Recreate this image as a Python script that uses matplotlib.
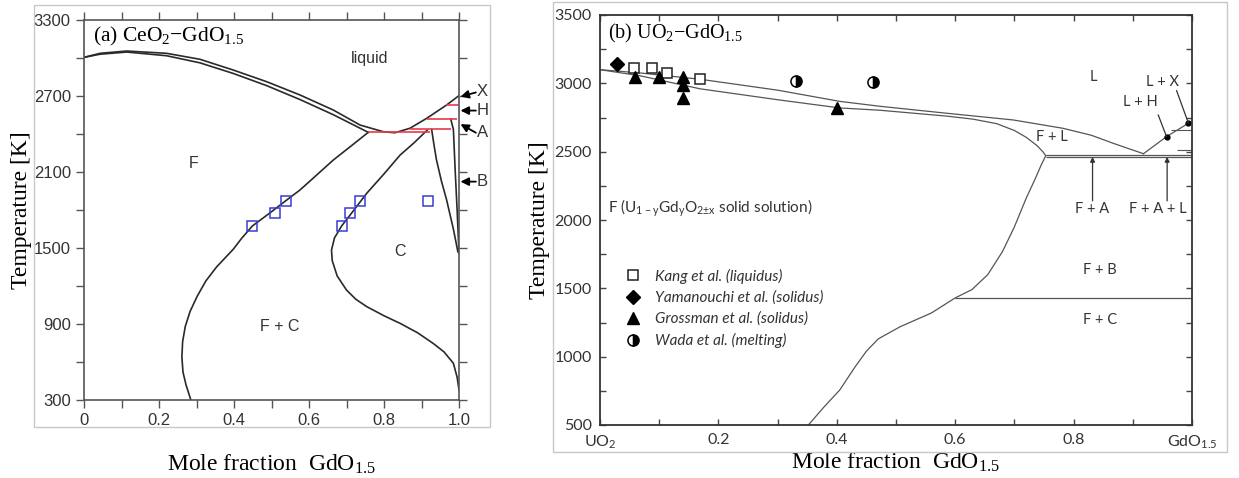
import matplotlib.pyplot as plt
from matplotlib.patches import Rectangle

plt.rcParams['mathtext.default'] = 'regular'

# ---------------- (a) CeO2-GdO1.5 ----------------
a_liq_x = [0, 0.043, 0.114, 0.22, 0.309, 0.398, 0.487, 0.576, 0.665, 0.736, 0.798, 0.829, 0.869, 0.914, 0.967, 1.0]
a_liq_T = [3005, 3037, 3055, 3037, 2990, 2905, 2813, 2708, 2589, 2471, 2418, 2410, 2445, 2524, 2629, 2703]
a_sol_x = [0, 0.043, 0.114, 0.22, 0.309, 0.398, 0.487, 0.576, 0.665, 0.72, 0.758]
a_sol_T = [3005, 3030, 3047, 3018, 2962, 2878, 2782, 2672, 2552, 2470, 2413]
a_f_x = [0.758, 0.71, 0.665, 0.62, 0.576, 0.538, 0.495, 0.449, 0.42, 0.398, 0.354, 0.325, 0.302,
         0.283, 0.27, 0.263, 0.261, 0.264, 0.272, 0.285]
a_f_T = [2413, 2300, 2195, 2075, 1958, 1873, 1775, 1674, 1575, 1490, 1352, 1240, 1120,
         1000, 880, 760, 640, 520, 420, 300]
a_c_x = [0.915, 0.88, 0.843, 0.8, 0.754, 0.72, 0.687, 0.668, 0.66, 0.662, 0.675, 0.7, 0.725,
         0.754, 0.8, 0.843, 0.89, 0.931, 0.96, 0.985, 0.995, 1.0]
a_c_T = [2430, 2330, 2234, 2085, 1932, 1800, 1674, 1580, 1484, 1400, 1280, 1168, 1095,
         1037, 965, 905, 830, 747, 680, 590, 480, 379]
a_cb_x = [0.927, 0.933, 0.94, 0.953, 0.967, 0.985, 0.997]
a_cb_T = [2437, 2320, 2195, 2030, 1879, 1650, 1470]
a_b_x = [0.978, 0.985, 0.99, 0.995, 1.0]
a_b_T = [2518, 2437, 2100, 1800, 1460]
# red tie lines
a_red_T = [2413, 2437, 2518, 2629]
a_red_x0 = [0.758, 0.87, 0.914, 0.965]
a_red_x1 = [0.923, 0.978, 0.994, 1.0]
# experimental points
a_exp_x = [0.449, 0.508, 0.538, 0.689, 0.708, 0.736, 0.918]
a_exp_T = [1674, 1779, 1873, 1674, 1779, 1873, 1873]
# phase arrows on right side
a_arr_lab = ['X', 'H', 'A', 'B']
a_arr_T = [2695, 2585, 2478, 2024]
a_arr_tailT = [2728, 2585, 2410, 2024]

# ---------------- (b) UO2-GdO1.5 ----------------
b_liq_x = [0, 0.07, 0.169, 0.3, 0.405, 0.473, 0.586, 0.698, 0.782, 0.83, 0.867, 0.918]
b_liq_T = [3100, 3075, 3030, 2950, 2868, 2832, 2781, 2732, 2671, 2620, 2561, 2485]
b_sol_x = [0, 0.068, 0.169, 0.3, 0.405, 0.473, 0.586, 0.63, 0.67, 0.70, 0.72, 0.738, 0.748, 0.753]
b_sol_T = [3100, 3055, 2960, 2880, 2820, 2803, 2760, 2738, 2705, 2655, 2605, 2545, 2500, 2470]
b_f_x = [0.753, 0.745, 0.735, 0.72, 0.70, 0.68, 0.655, 0.628, 0.6, 0.56, 0.507, 0.47, 0.45, 0.43, 0.405, 0.378, 0.352]
b_f_T = [2470, 2400, 2300, 2160, 1950, 1770, 1600, 1490, 1430, 1320, 1219, 1130, 1040, 920, 756, 630, 500]
b_hx_x = [0.918, 0.957, 0.994, 1.0]
b_hx_T = [2485, 2610, 2708, 2720]
b_eut_T = [2478, 2458]
b_fb_T = 1430

kang_x = [0.057, 0.087, 0.114, 0.169]
kang_T = [3115, 3110, 3078, 3034]
yama_x = [0.029]
yama_T = [3141]
gross_x = [0.059, 0.1, 0.141, 0.141, 0.141, 0.4]
gross_T = [3044, 3044, 3049, 2988, 2890, 2817]
wada_x = [0.331, 0.461]
wada_T = [3020, 3012]

fig = plt.figure(figsize=(12.39, 4.78), dpi=100)

# light frames around each panel
fig.patches.append(Rectangle((34 / 1239, 1 - 427 / 478), (490 - 34) / 1239, (427 - 5) / 478,
                             transform=fig.transFigure, fill=False, ec='#c8c8c8', lw=1))
fig.patches.append(Rectangle((553 / 1239, 1 - 452 / 478), (1227 - 553) / 1239, (452 - 2) / 478,
                             transform=fig.transFigure, fill=False, ec='#c8c8c8', lw=1))

# ===== panel (a) =====
axa = fig.add_axes([84 / 1239, 1 - 400 / 478, 375 / 1239, 380 / 478])
lc = '#2a2a2a'
for xs, ts in [(a_liq_x, a_liq_T), (a_sol_x, a_sol_T), (a_f_x, a_f_T),
               (a_c_x, a_c_T), (a_cb_x, a_cb_T), (a_b_x, a_b_T)]:
    axa.plot(xs, ts, color=lc, lw=1.2, solid_joinstyle='round')
axa.hlines(a_red_T, a_red_x0, a_red_x1, colors='#e8394a', lw=1.2)
axa.plot(a_exp_x, a_exp_T, 's', ms=6.5, mfc='none', mec='#3b3bd6', mew=1.1)

axa.set_xlim(0, 1.0)
axa.set_ylim(300, 3300)
axa.set_xticks([0, 0.2, 0.4, 0.6, 0.8, 1.0])
axa.set_xticklabels(['0', '0.2', '0.4', '0.6', '0.8', '1.0'])
axa.set_xticks([0.1, 0.3, 0.5, 0.7, 0.9], minor=True)
axa.set_yticks([300, 900, 1500, 2100, 2700, 3300])
axa.set_yticks([600, 1200, 1800, 2400, 3000], minor=True)
axa.tick_params(which='both', direction='out', length=6, width=1, color='#555555',
                top=True, right=True, labelsize=12, labelcolor='#333333')
for lab in axa.get_xticklabels() + axa.get_yticklabels():
    lab.set_family('Liberation Sans')
for s in axa.spines.values():
    s.set_color('#555555')
    s.set_linewidth(1.2)

axa.text(0.024, 3166, '(a) CeO$_2$\u2212GdO$_{1.5}$', family='Liberation Serif', fontsize=15.5, va='center')
ta = dict(family='Liberation Sans', fontsize=11.5, ha='center', va='center', color='#333333')
axa.text(0.763, 2997, 'liquid', **ta)
axa.text(0.291, 2169, 'F', **ta)
axa.text(0.843, 1471, 'C', **ta)
axa.text(0.523, 878, 'F + C', **ta)
for lab, tT, sT in zip(a_arr_lab, a_arr_T, a_arr_tailT):
    axa.annotate('', xy=(1.004, tT), xytext=(1.045, sT), annotation_clip=False,
                 arrowprops=dict(arrowstyle='-|>', color='k', lw=1.3, mutation_scale=12, shrinkA=0, shrinkB=0))
    axa.text(1.047, sT + (10 if lab == 'X' else 0), lab, family='Liberation Sans', fontsize=12,
             va='center', ha='left', color='#333333', clip_on=False)

axa.set_xlabel('Mole fraction  GdO$_{1.5}$', family='Liberation Serif', fontsize=17, labelpad=18)
axa.set_ylabel('Temperature [K]', family='Liberation Serif', fontsize=17, labelpad=1)

# ===== panel (b) =====
axb = fig.add_axes([600 / 1239, 1 - 425 / 478, 592 / 1239, 410 / 478])
gc = '#555555'
for xs, ts in [(b_liq_x, b_liq_T), (b_sol_x, b_sol_T), (b_f_x, b_f_T), (b_hx_x, b_hx_T)]:
    axb.plot(xs, ts, color=gc, lw=0.9, solid_joinstyle='round')
axb.hlines(b_eut_T, b_sol_x[-1], 1.0, colors=gc, lw=0.9)
axb.hlines([2660, 2510], [0.965, 0.975], 1.0, colors=gc, lw=0.8)
axb.hlines(b_fb_T, 0.6, 1.0, colors=gc, lw=0.9)
axb.plot(b_hx_x[1:3], b_hx_T[1:3], 'o', color='k', ms=3.5)

axb.plot(kang_x, kang_T, 's', ms=7, mfc='white', mec='#222222', mew=1.1, label='Kang et al. (liquidus)')
axb.plot(yama_x, yama_T, 'D', ms=7, color='k', label='Yamanouchi et al. (solidus)')
axb.plot(gross_x, gross_T, '^', ms=8, color='k', label='Grossman et al. (solidus)')
axb.plot(wada_x, wada_T, 'o', ms=8, fillstyle='right', mfc='k', mfcalt='white', mec='k', mew=1.1,
         label='Wada et al. (melting)')

axb.set_xlim(0, 1.0)
axb.set_ylim(500, 3500)
axb.set_xticks([0, 0.2, 0.4, 0.6, 0.8, 1.0])
axb.set_xticklabels(['UO$_2$', '0.2', '0.4', '0.6', '0.8', 'GdO$_{1.5}$'])
axb.set_xticks([0.1, 0.3, 0.5, 0.7, 0.9], minor=True)
axb.set_yticks([500, 1000, 1500, 2000, 2500, 3000, 3500])
axb.set_yticks([750, 1250, 1750, 2250, 2750, 3250], minor=True)
axb.tick_params(which='both', direction='in', length=4, width=1, color='#444444',
                top=True, right=True, labelsize=11.5, labelcolor='#333333', pad=6)
for lab in axb.get_xticklabels() + axb.get_yticklabels():
    lab.set_family('Lato')
for s in axb.spines.values():
    s.set_color('#333333')
    s.set_linewidth(1.3)

axb.text(0.0135, 3368, '(b) UO$_2$\u2212GdO$_{1.5}$', family='Liberation Serif', fontsize=14.5, va='center')
tk = dict(family='Lato', fontsize=10.5, ha='center', va='center', color='#333333')
axb.text(0.833, 3049, 'L', **tk)
axb.text(0.951, 3012, 'L + X', **tk)
axb.text(0.912, 2866, 'L + H', **tk)
axb.text(0.764, 2609, 'F + L', **tk)
axb.text(0.832, 2080, 'F + A', **tk)
axb.text(0.943, 2080, 'F + A + L', **tk)
axb.text(0.845, 1634, 'F + B', **tk)
axb.text(0.845, 1268, 'F + C', **tk)
axb.text(0.0135, 2088, 'F (U$_{1-y}$Gd$_y$O$_{2±x}$ solid solution)', family='Lato', fontsize=11,
         va='center', color='#333333')
axb.plot([0.943, 0.957], [2768, 2610], color='#333333', lw=0.9)
axb.plot([0.974, 0.994], [2946, 2708], color='#333333', lw=0.9)
axb.annotate('', xy=(0.832, 2462), xytext=(0.832, 2140),
             arrowprops=dict(arrowstyle='-|>', color='#333333', lw=0.9, mutation_scale=7, shrinkA=0, shrinkB=0))
axb.annotate('', xy=(0.958, 2462), xytext=(0.958, 2140),
             arrowprops=dict(arrowstyle='-|>', color='#333333', lw=0.9, mutation_scale=7, shrinkA=0, shrinkB=0))

leg = axb.legend(loc='upper left', bbox_to_anchor=(0.02, 0.415), frameon=False,
                 handlelength=1.0, handletextpad=0.9, labelspacing=0.45,
                 prop={'family': 'Lato', 'style': 'italic', 'size': 11})
for t in leg.get_texts():
    t.set_color('#333333')

axb.set_xlabel('Mole fraction  GdO$_{1.5}$', family='Liberation Serif', fontsize=17, labelpad=0)
axb.set_ylabel('Temperature [K]', family='Liberation Serif', fontsize=17, labelpad=3)

fig.savefig('out.png', dpi=100)
